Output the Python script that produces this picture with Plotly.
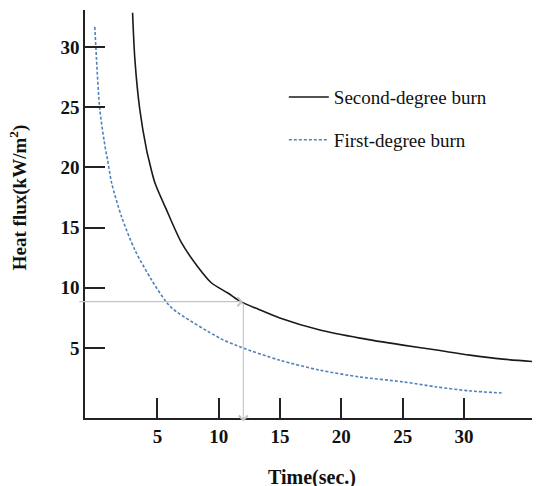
import plotly.graph_objects as go

# Second-degree burn curve (time s, heat flux kW/m2)
second_t = [2.97, 3.16, 3.56, 4.11, 4.30, 4.79, 5.74, 6.97, 8.30, 9.41, 10.74, 11.80, 13.19,
            14.98, 18.25, 21.51, 25.02, 27.77, 30.48, 33.17, 36.03]
second_q = [32.84, 28.95, 24.79, 21.46, 20.63, 18.72, 16.47, 13.73, 11.73, 10.40, 9.57, 8.85, 8.24,
            7.49, 6.49, 5.82, 5.24, 4.83, 4.41, 4.08, 3.85]

# First-degree burn curve
first_t = [-0.11, 0.03, 0.30, 0.77, 0.93, 1.26, 2.07, 3.16, 4.52, 5.60, 6.26, 10.09, 11.72,
           14.98, 18.25, 21.51, 25.02, 27.77, 30.48, 33.07]
first_q = [31.67, 28.95, 24.79, 21.46, 20.63, 18.72, 15.91, 13.14, 10.65, 8.99, 8.24, 5.82, 5.10,
           3.99, 3.16, 2.60, 2.19, 1.77, 1.44, 1.27]

x_ticks = [5, 10, 15, 20, 25, 30]
y_ticks = [5, 10, 15, 20, 25, 30]

# reading guide: flux level and time where it meets the second-degree curve
guide_q = 8.85
guide_t = 12.0

FONT = "Liberation Serif"

fig = go.Figure()
fig.add_trace(go.Scatter(x=second_t, y=second_q, mode="lines", name="Second-degree burn",
                         line=dict(color="#1a1a1a", width=1.6, shape="spline", smoothing=0.8),
                         legendgroup="a"))
fig.add_trace(go.Scatter(x=first_t, y=first_q, mode="lines", name="First-degree burn",
                         line=dict(color="#4f81bd", width=1.6, dash="3px,2px", shape="spline", smoothing=0.8),
                         legendgroup="b"))

# guide arrows
fig.add_annotation(x=guide_t, y=guide_q, ax=-1.5, ay=guide_q, xref="x", yref="y", axref="x", ayref="y",
                   showarrow=True, arrowhead=4, arrowsize=1.6, arrowwidth=1.1, arrowcolor="#c4c4c4", text="")
fig.add_annotation(x=guide_t, y=-1.1, ax=guide_t, ay=guide_q, xref="x", yref="y", axref="x", ayref="y",
                   showarrow=True, arrowhead=4, arrowsize=1.6, arrowwidth=1.1, arrowcolor="#c4c4c4", text="")

# axis titles
fig.add_annotation(text="<b>Time(sec.)</b>", xref="paper", yref="paper", x=0.499, y=-0.145,
                   showarrow=False, font=dict(family=FONT, size=20, color="#111"),
                   xanchor="center", yanchor="middle")
fig.add_annotation(text="<b>Heat flux(kW/m<sup>2</sup>)</b>", xref="paper", yref="paper", x=-0.147, y=0.539,
                   showarrow=False, textangle=-90, font=dict(family=FONT, size=19, color="#111"),
                   xanchor="center", yanchor="middle")

axis_common = dict(showgrid=False, zeroline=False, showline=True, linecolor="#222", linewidth=1.6,
                   ticks="inside", ticklen=20, tickwidth=1.5, tickcolor="#222",
                   tickfont=dict(family=FONT, size=19, color="#111"))

fig.update_xaxes(range=[-0.91, 36.2], tickvals=x_ticks, ticktext=[f"<b>{v}</b>" for v in x_ticks],
                 **axis_common)
fig.update_yaxes(range=[-0.81, 33.07], tickvals=y_ticks, ticktext=[f"<b>{v}</b>" for v in y_ticks],
                 **axis_common)

# the page body adds an 8px offset, so the figure is 8px smaller and margins shifted
fig.update_layout(
    width=532, height=478,
    margin=dict(l=77, r=0, t=2, b=68),
    paper_bgcolor="white", plot_bgcolor="white",
    showlegend=True,
    legend=dict(x=0.437, y=0.833, xanchor="left", yanchor="top", bgcolor="rgba(0,0,0,0)",
                font=dict(family=FONT, size=19, color="#111"), tracegroupgap=15,
                itemwidth=40),
)

fig.write_html("out.html")
